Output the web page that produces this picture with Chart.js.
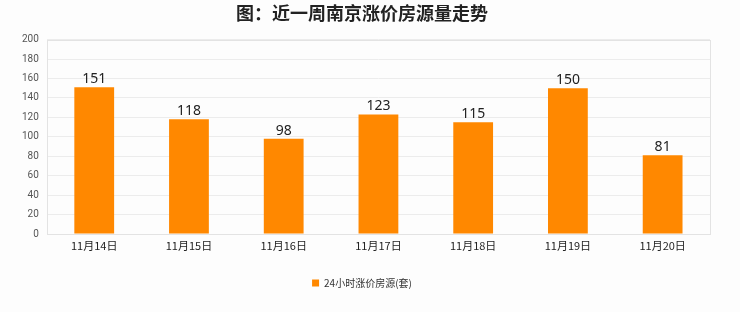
<!DOCTYPE html>
<html><head><meta charset="utf-8">
<script src="https://cdn.jsdelivr.net/npm/chart.js@4/dist/chart.umd.min.js"></script>
<style>html,body{margin:0;padding:0;background:#fdfdfd;}#w{width:740px;height:312px;}</style>
</head><body><div id="w"><canvas id="c"></canvas></div>
<script>
const categories = ["11月14日","11月15日","11月16日","11月17日","11月18日","11月19日","11月20日"];
const values = [151,118,98,123,115,150,81];
const seriesName = "24小时涨价房源(套)";
const yTicks = [0,20,40,60,80,100,120,140,160,180,200];

const labelPlugin = {
  id:'labels',
  afterDatasetsDraw(chart){
    const ctx = chart.ctx;
    const meta = chart.getDatasetMeta(0);
    ctx.save();
    ctx.font = '14px "Noto Sans", sans-serif';
    ctx.fillStyle = '#222';
    ctx.textAlign = 'center';
    ctx.textBaseline = 'bottom';
    meta.data.forEach((bar,i)=>{ ctx.fillText(String(values[i]), bar.x, bar.y - 1); });
    ctx.restore();
  }
};
const framePlugin = {
  id:'frame',
  beforeDatasetsDraw(chart){
    const a = chart.chartArea, ctx = chart.ctx;
    ctx.save();
    ctx.strokeStyle = '#e3e3e3';
    ctx.lineWidth = 1;
    ctx.strokeRect(Math.round(a.left)+0.5, Math.round(a.top)+0.5, Math.round(a.right-a.left), Math.round(a.bottom-a.top));
    ctx.restore();
  }
};
const bgPlugin = {
  id:'bg',
  beforeDraw(chart){
    const ctx = chart.ctx;
    ctx.save(); ctx.fillStyle = '#fdfdfd'; ctx.fillRect(0,0,chart.width,chart.height); ctx.restore();
  }
};

new Chart(document.getElementById('c'), {
  type:'bar',
  data:{ labels: categories, datasets:[{ label: seriesName, data: values, backgroundColor:'#ff8800', borderWidth:0, categoryPercentage:1, barPercentage:0.42 }]},
  options:{
    responsive:true, maintainAspectRatio:false, animation:false,
    layout:{ padding:{ left:14, right:30, top:0, bottom:14 } },
    plugins:{
      title:{ display:true, text:'图：近一周南京涨价房源量走势', color:'#222', font:{ family:'"Noto Sans CJK SC", sans-serif', size:18, weight:'bold' }, padding:{ top:2, bottom:16 } },
      legend:{ position:'bottom', labels:{ boxWidth:7, boxHeight:7, color:'#333', font:{ family:'"Noto Sans CJK SC", sans-serif', size:10 }, padding:10 } },
      tooltip:{ enabled:false }
    },
    scales:{
      x:{ grid:{ display:false, drawTicks:false }, border:{ display:false }, afterFit(ax){ ax.height = 34; },
          ticks:{ color:'#222', font:{ family:'"Noto Sans CJK SC", sans-serif', size:11 }, padding:5 } },
      y:{ min:0, max:200, afterBuildTicks(ax){ ax.ticks = yTicks.map(v=>({value:v})); },
          grid:{ color:'#ececec', drawTicks:false }, border:{ display:false },
          ticks:{ color:'#555', font:{ family:'"Roboto", sans-serif', size:10 }, padding:8 } }
    }
  },
  plugins:[bgPlugin, framePlugin, labelPlugin]
});
</script></body></html>
